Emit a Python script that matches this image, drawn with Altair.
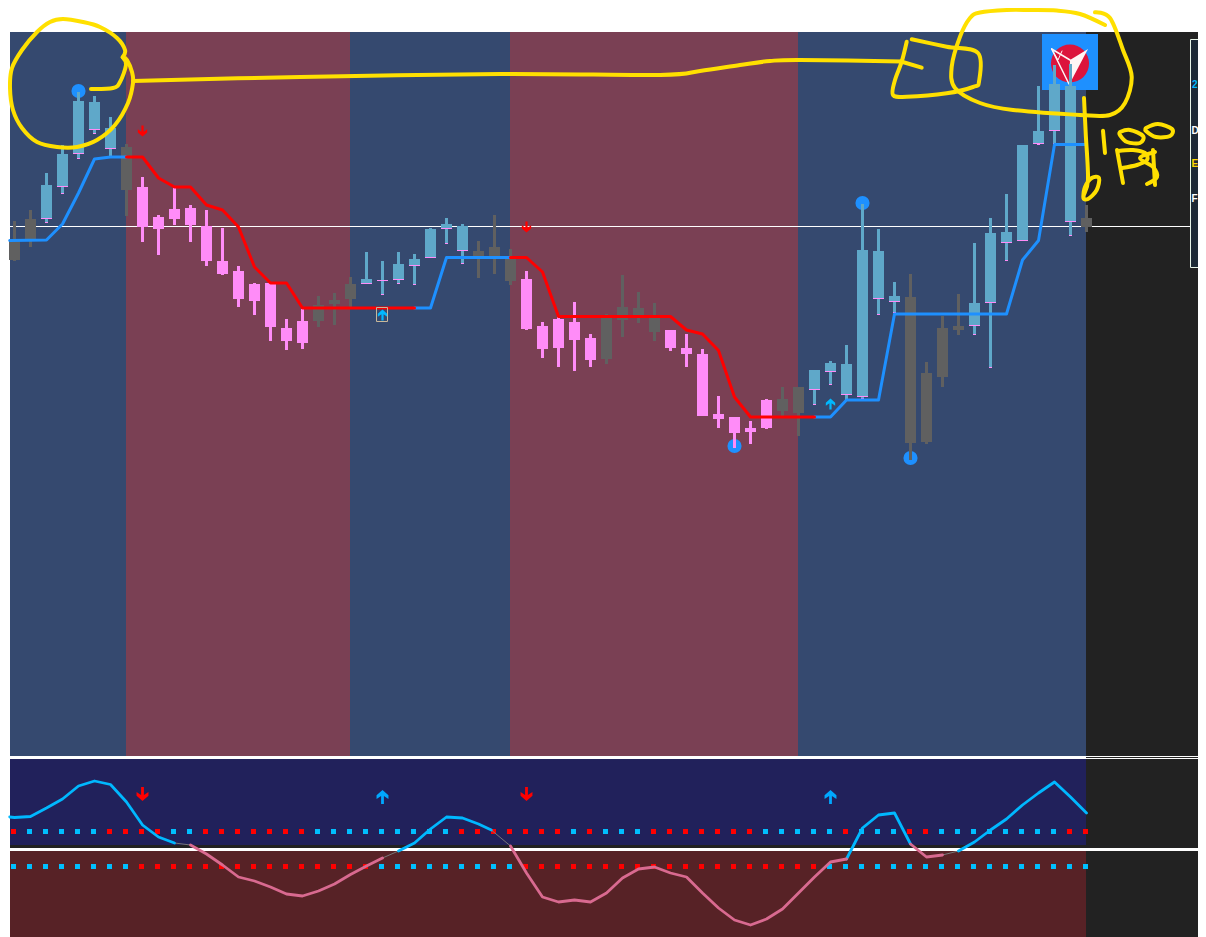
import altair as alt
import pandas as pd

# ---- candle values (price scale runs downwards, same units as the picture)
opens_top = [240,219,185,154,101,102,128,147,187,217,209,208,226,261,271,284,283,328,321,305,300,284,279,280,264,259,229,224,226,251,247,258,279,326,319,322,338,317,307,308,317,330,348,354,414,417,428,400,399,387,370,363,364,250,251,296,297,373,328,326,303,233,232,145,131,84,86,218]
bodies_bot = [260,240,219,187,154,130,149,190,227,229,219,225,261,274,299,301,327,341,343,321,304,299,284,281,280,266,258,229,251,257,257,281,329,349,348,340,360,359,320,317,332,348,354,416,419,433,432,428,411,413,390,372,395,397,299,302,443,442,377,330,326,303,243,241,144,131,222,227]
wick_top = [221,210,173,145,92,96,117,144,177,215,188,205,210,228,266,283,283,319,309,296,293,277,252,261,252,254,228,218,224,241,215,249,271,322,317,302,334,314,275,292,303,330,334,349,396,417,421,399,387,387,370,361,345,204,229,282,274,362,316,294,243,218,194,145,86,65,64,205]
wick_bot = [261,247,223,194,159,134,157,216,242,255,225,242,266,275,307,315,341,350,349,327,325,307,283,295,284,285,258,244,264,278,274,285,330,358,367,371,367,364,337,323,341,351,367,416,428,448,444,429,417,436,405,385,400,399,315,313,460,444,387,335,335,368,261,241,145,144,236,232]
kinds = ["g","g","b","b","b","b","b","g","p","p","p","p","p","p","p","p","p","p","p","g","g","g",
         "b","b","b","b","b","b","b","g","g","g","p","p","p","p","p","g","g","g","g","p","p","p","p","p","p","p",
         "g","g","b","b","b","b","b","b","g","g","g","g","b","b","b","b","b","b","b","g"]

# ---- regimes
regime_start = [10,126,350,510,798]
regime_end = [126,350,510,798,1086]
regime_kind = ["up","down","up","down","up"]

# ---- trend line: (bar index, level) per segment
trend_up_1 = [(-0.3,240.5),(2,240),(3,224),(4,193),(5,159),(6,157),(7,157)]
trend_dn_1 = [(7,157),(8,157),(9,178),(10,187),(11,187),(12,205),(13,210),(14,227),(15,267),(16,283),(17,283),(18,308),(25,308)]
trend_up_2 = [(25,308),(26,308),(27,257.5),(31,257.5)]
trend_dn_2 = [(31,257.5),(32,257.5),(33,272),(34,316.5),(41,316.5),(42,330),(43,334),(44,350.5),(45,397),(46,417),(50,417)]
trend_up_3 = [(50,417),(51,417),(52,400),(54,400),(55,314),(62,314),(63,260),(64,240.5),(65,144.5),(67,144.5)]

# ---- oscillator: (bar index, level) per segment
osc_cyan_1 = [(-0.3,817),(0,817.5),(1,816.5),(2,808),(3,799),(4,786),(5,781),(6,784.5),(7,802),(8,825),(9,837),(10,843)]
osc_gray_1 = [(10,843),(11,845)]
osc_pink_1 = [(11,845),(12,854),(13,865),(14,877),(15,881),(16,887),(17,894),(18,896),(19,891),(20,884),(21,874.5),(22,866),(23,858)]
osc_gray_2 = [(23,858),(24,851)]
osc_cyan_2 = [(24,851),(25,843),(26,829),(27,817),(28,818),(29,824),(29.8,830)]
osc_gray_3 = [(29.8,830),(31,846)]
osc_pink_2 = [(31,846),(32,873),(33,897),(34,902),(35,900),(36,902),(37,893),(38,878),(39,869),(40,867),(41,873),(42,877),(43,893),(44,908),(45,920),(46,925),(47,919),(48,909),(49,893),(50,877),(51,862),(52,859)]
osc_cyan_3 = [(52,859),(53,828),(54,815),(55,813),(56,844)]
osc_pink_3 = [(56,844),(57,857),(58,855)]
osc_gray_4 = [(58,855),(59,851)]
osc_cyan_4 = [(59,851),(60,842),(61,830),(62,819),(63,805),(64,793),(65,782),(66,797),(67,813)]

# ---- dotted levels: colour per bar
upper_dots = ("R" + "C"*5 + "R"*4 + "C"*2 + "R"*7 + "C"*9 + "R"*7 + "C" + "R" + "C"*3 + "R"*7
              + "C"*5 + "R" + "C"*3 + "R"*2 + "C"*8 + "R"*2)
lower_dots = "C"*8 + "R"*15 + "C"*9 + "R"*19 + "C"*17
upper_level = 831.5
lower_level = 866.5

# ---- pivots and signals
pivot_x = [4,53,45,56]
pivot_y = [91,203,446,458]
arrow_down_main = [(8,131),(32,227)]
arrow_up_main = [(23,315),(51,404)]
arrow_down_osc = [(8,794),(32,794)]
arrow_up_osc = [(23,797),(51,797)]

# ---- hand-drawn annotation strokes
strokes = [
 [(91,89),(113,88),(120,82),(126,65),(122.7,57.3)],
 [(122.7,57),(125,50),(117,38),(100,27),(83,22),(63,19),(50,22),(37,32),(22,50),(12,68),(10,88),(13,110),(22,128),(37,142),(57,147),(77,147),(97,140),(115,125),(128,103),(133,83),(132,72),(127,60),(122.7,57)],
 [(133,81),(300,77),(500,74),(660,75),(700,71),(740,65),(770,61),(800,60),(901,61.5)],
 [(901,61.5),(921.7,67.7)],
 [(906.7,41.7),(901.7,61.7),(895,80),(893,95),(906.7,96.7),(946.7,93.3),(973,87),(979,81.7),(978,53),(946.7,46.7),(911.7,39.3)],
 [(1105,25),(1080,14),(1056.7,10.5),(1030,10),(1006.7,10),(980,12.5),(970,18),(960,36.7),(951.7,66.7),(955,88),(980,103),(1013,110),(1080,115),(1110,115),(1125,103),(1131.7,76.7),(1123,50),(1110,18),(1095,12.3)],
 [(1084,98),(1085.7,133),(1088,180),(1083.3,196.7),(1088,199),(1096.7,190),(1099,178),(1091.7,178),(1085,187),(1083.3,196.7)],
 [(1103,130.7),(1105,153)],
 [(1120,132),(1130,130),(1143,136),(1140,143),(1127,142),(1120,135),(1120,132)],
 [(1146,128),(1158,124),(1172,129),(1170,136),(1156,137),(1146,131),(1146,128)],
 [(1117,150),(1123,183)],
 [(1118,151),(1133,150),(1145,153),(1147,160),(1137,165),(1122,168)],
 [(1155,152),(1140,158),(1153,167),(1157,177),(1147,184)],
 [(1153,150),(1155,185)],
]

# ---- colours
C_UP_BG, C_DN_BG = "#35496f", "#7a4054"
C_NAVY, C_MAROON, C_DARK = "#21215b", "#572226", "#222222"
C_BLUE, C_PINK, C_GRAY = "#5fa8c9", "#ff8cf8", "#606060"
C_LINE_BLUE, C_RED, C_CYAN, C_OSC_PINK = "#1e90ff", "#ff0000", "#00b8ff", "#d96a90"
C_YELLOW = "#ffe000"

BAR0, STEP = 14.5, 16
bx = lambda i: BAR0 + STEP * i

X = alt.Scale(domain=[8, 1198], range=[0, 1190], nice=False, zero=False)
Y = alt.Scale(domain=[8, 937], range=[0, 929], nice=False, zero=False)
xe = lambda f="x": alt.X(f"{f}:Q", scale=X, axis=None)
ye = lambda f="y": alt.Y(f"{f}:Q", scale=Y, axis=None)
x2e = alt.X2("x2:Q")
y2e = alt.Y2("y2:Q")


def rects(rows, color=None, **kw):
    df = pd.DataFrame(rows, columns=["x", "x2", "y", "y2"])
    return alt.Chart(df).mark_rect(color=color, **kw).encode(x=xe(), x2=x2e, y=ye(), y2=y2e)


def hline(x0, x1, y, color="#ffffff", width=1):
    df = pd.DataFrame({"x": [x0], "x2": [x1], "y": [y]})
    return alt.Chart(df).mark_rule(color=color, strokeWidth=width).encode(x=xe(), x2=x2e, y=ye())


def path(points, color, width, interpolate="linear"):
    df = pd.DataFrame(points, columns=["x", "y"])
    df["o"] = range(len(df))
    return alt.Chart(df).mark_line(color=color, strokeWidth=width, interpolate=interpolate,
                                   strokeCap="round", strokeJoin="round").encode(
        x=xe(), y=ye(), order="o:Q")


def series(points, color, width):
    return path([(bx(i), v) for i, v in points], color, width)


def symbols(pts, shape, size, color):
    df = pd.DataFrame([(bx(i), v) for i, v in pts], columns=["x", "y"])
    return alt.Chart(df).mark_point(shape=shape, size=size, filled=True, color=color,
                                    opacity=1, strokeWidth=0).encode(x=xe(), y=ye())


ARROW_DOWN = "M-0.2,-1 L0.2,-1 L0.2,0.15 L0.85,-0.3 L0.85,0.25 L0,1 L-0.85,0.25 L-0.85,-0.3 L-0.2,0.15 Z"
ARROW_UP = "M-0.2,1 L0.2,1 L0.2,-0.15 L0.85,0.3 L0.85,-0.25 L0,-1 L-0.85,-0.25 L-0.85,0.3 L-0.2,-0.15 Z"

layers = []
# backgrounds
layers.append(rects([(1086, 1198, 32, 937)], C_DARK))
for s, e, k in zip(regime_start, regime_end, regime_kind):
    layers.append(rects([(s, e, 32, 756)], C_UP_BG if k == "up" else C_DN_BG))
layers.append(rects([(10, 1086, 759, 845)], C_NAVY))
layers.append(rects([(10, 1086, 845, 848)], C_DARK))
layers.append(rects([(10, 1086, 851, 937)], C_MAROON))
layers.append(rects([(10, 1198, 848, 851)], "#ffffff"))
layers.append(hline(10, 1198, 756.5))
layers.append(hline(10, 1198, 758.5))
layers.append(hline(10, 1190, 226.5))

# info box, cut by the page edge
layers.append(rects([(1190.5, 1205, 39.5, 267.5)], "#1e2a36", stroke="#e8f5e8", strokeWidth=1))
labels = pd.DataFrame({"x": [1192, 1191.5, 1191.5, 1191.5], "y": [85, 131, 164, 199],
                       "t": ["2", "D", "E", "F"],
                       "c": [C_CYAN, "#ffffff", "#ffd800", "#ffffff"]})
layers.append(alt.Chart(labels).mark_text(font="Liberation Sans", fontWeight="bold", fontSize=10,
                                          align="left", baseline="middle").encode(
    x=xe(), y=ye(), text="t:N", color=alt.Color("c:N", scale=None)))

# logo
layers.append(rects([(1042, 1098, 34, 90)], C_LINE_BLUE))
layers.append(alt.Chart(pd.DataFrame({"x": [1070], "y": [63.5]})).mark_circle(
    size=1452, color="#dc143c", opacity=1).encode(x=xe(), y=ye()))
layers.append(alt.Chart(pd.DataFrame({"x": [1070], "y": [60]})).mark_point(
    shape="M0.9,-0.55 L0,0 L-0.05,1.25 Z", size=1600, filled=True, color="#fff5f5",
    opacity=1, strokeWidth=0).encode(x=xe(), y=ye()))
layers.append(path([(1051.7, 49), (1070, 60)], "#fff5f5", 1.5))
layers.append(path([(1051.7, 49), (1069, 84)], "#fff5f5", 1.5))
layers.append(path([(1051.7, 49), (1058, 60), (1062, 51)], "#fff5f5", 1))

# pivots
layers.append(alt.Chart(pd.DataFrame({"x": [bx(i) for i in pivot_x], "y": pivot_y})).mark_circle(
    size=200, color=C_LINE_BLUE, opacity=1).encode(x=xe(), y=ye()))

# candles
palette = {"b": C_BLUE, "p": C_PINK, "g": C_GRAY}
candles = pd.DataFrame({"i": range(len(kinds)), "top": opens_top, "bot": bodies_bot,
                        "hi": wick_top, "lo": wick_bot, "k": kinds})
for k, col in palette.items():
    d = candles[candles.k == k]
    layers.append(rects([(bx(i) - 1.5, bx(i) + 1.5, h, l) for i, h, l in zip(d.i, d.hi, d.lo)], col))
    layers.append(rects([(bx(i) - 5.5, bx(i) + 5.5, t, b) for i, t, b in zip(d.i, d.top, d.bot)], col))
d = candles[candles.k == "b"]
layers.append(rects([(bx(i) - 5.5, bx(i) + 5.5, b - 1, b) for i, b in zip(d.i, d.bot)], C_PINK))
layers.append(rects([(bx(i) - 1.5, bx(i) + 1.5, l - 1, l) for i, l, b in zip(d.i, d.lo, d.bot) if l > b], C_PINK))

# trend
for seg, col in [(trend_up_1, C_LINE_BLUE), (trend_up_2, C_LINE_BLUE), (trend_up_3, C_LINE_BLUE),
                 (trend_dn_1, C_RED), (trend_dn_2, C_RED)]:
    layers.append(series(seg, col, 3))

# signals on the price panel
layers.append(rects([(376.5, 387.5, 307.5, 321.5)], "rgba(0,0,0,0)", stroke="#c8b89a", strokeWidth=1))
layers.append(symbols(arrow_down_main, ARROW_DOWN, 121, C_RED))
layers.append(symbols(arrow_up_main, ARROW_UP, 121, C_CYAN))

# oscillator levels
for level, codes in [(upper_level, upper_dots), (lower_level, lower_dots)]:
    dots = pd.DataFrame({"x": [bx(i) - 1 for i in range(len(codes))], "y": level,
                         "c": [C_RED if c == "R" else "#00bfff" for c in codes]})
    layers.append(alt.Chart(dots).mark_square(size=25, opacity=1).encode(
        x=xe(), y=ye(), color=alt.Color("c:N", scale=None)))

# oscillator
for seg, col, w in [(osc_gray_1, "#777777", 1), (osc_gray_2, "#777777", 1), (osc_gray_3, "#777777", 1),
                    (osc_gray_4, "#777777", 1), (osc_cyan_1, C_CYAN, 2.8), (osc_cyan_2, C_CYAN, 2.8),
                    (osc_cyan_3, C_CYAN, 2.8), (osc_cyan_4, C_CYAN, 2.8), (osc_pink_1, C_OSC_PINK, 2.8),
                    (osc_pink_2, C_OSC_PINK, 2.8), (osc_pink_3, C_OSC_PINK, 2.8)]:
    layers.append(series(seg, col, w))
layers.append(symbols(arrow_down_osc, ARROW_DOWN, 196, C_RED))
layers.append(symbols(arrow_up_osc, ARROW_UP, 196, "#00a8ff"))

# annotations
for st in strokes:
    layers.append(path(st, C_YELLOW, 4, "cardinal" if len(st) > 3 else "linear"))

chart = alt.layer(*layers).properties(
    width=1190, height=929, padding=0,
    autosize=alt.AutoSizeParams(type="none"), background="#ffffff",
).configure_view(stroke=None)

chart.save("out.html", embed_options={"renderer": "svg", "actions": False})
